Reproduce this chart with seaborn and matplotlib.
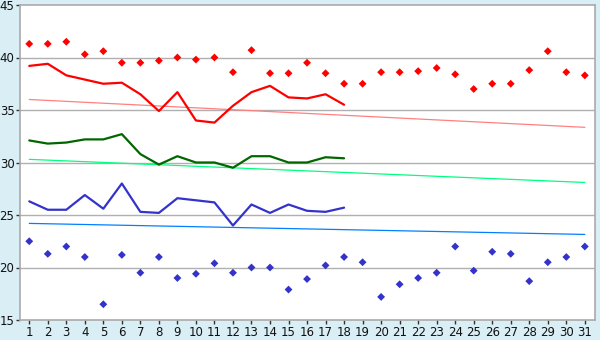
import numpy as np
import pandas as pd
import seaborn as sns
import matplotlib.pyplot as plt

days = list(range(1, 32))

# daily max / min points for all 31 days
max_pts = [41.3, 41.3, 41.5, 40.3, 40.6, 39.5, 39.5, 39.7, 40.0, 39.8, 40.0, 38.6, 40.7, 38.5, 38.5, 39.5,
           38.5, 37.5, 37.5, 38.6, 38.6, 38.7, 39.0, 38.4, 37.0, 37.5, 37.5, 38.8, 40.6, 38.6, 38.3]
min_pts = [22.5, 21.3, 22.0, 21.0, 16.5, 21.2, 19.5, 21.0, 19.0, 19.4, 20.4, 19.5, 20.0, 20.0, 17.9, 18.9,
           20.2, 21.0, 20.5, 17.2, 18.4, 19.0, 19.5, 22.0, 19.7, 21.5, 21.3, 18.7, 20.5, 21.0, 22.0]

# lines for days 1-18
line_days = list(range(1, 19))
red_line = [39.2, 39.4, 38.3, 37.9, 37.5, 37.6, 36.5, 34.9, 36.7, 34.0, 33.8, 35.4, 36.7, 37.3, 36.2, 36.1, 36.5, 35.5]
green_line = [32.1, 31.8, 31.9, 32.2, 32.2, 32.7, 30.8, 29.8, 30.6, 30.0, 30.0, 29.5, 30.6, 30.6, 30.0, 30.0, 30.5, 30.4]
blue_line = [26.3, 25.5, 25.5, 26.9, 25.6, 28.0, 25.3, 25.2, 26.6, 26.4, 26.2, 24.0, 26.0, 25.2, 26.0, 25.4, 25.3, 25.7]

# trend lines (start/end)
trend_days = [1, 31]
red_trend = [36.0, 33.35]
green_trend = [30.3, 28.1]
blue_trend = [24.2, 23.15]

sns.set_style('white')
fig = plt.figure(figsize=(6, 3.4), dpi=100, facecolor='#d9eef5')
ax = fig.add_axes([20 / 600, 20 / 340, 575 / 600, 315 / 340])
ax.set_facecolor('white')

for y in range(20, 45, 5):
    ax.axhline(y, color='#b0b0b0', lw=1, zorder=0)

sns.lineplot(x=trend_days, y=red_trend, color='#ff8080', lw=0.9, ax=ax)
sns.lineplot(x=trend_days, y=green_trend, color='#00ff80', lw=0.9, ax=ax)
sns.lineplot(x=trend_days, y=blue_trend, color='#0080ff', lw=0.9, ax=ax)

sns.lineplot(x=line_days, y=red_line, color='#ff0000', lw=1.6, ax=ax)
sns.lineplot(x=line_days, y=green_line, color='#006600', lw=1.6, ax=ax)
sns.lineplot(x=line_days, y=blue_line, color='#3333cc', lw=1.6, ax=ax)

sns.scatterplot(x=days, y=max_pts, color='#ff0000', marker='D', s=16, edgecolor='none', ax=ax)
sns.scatterplot(x=days, y=min_pts, color='#3333cc', marker='D', s=16, edgecolor='none', ax=ax)

ax.set_xlim(0.5, 31.55)
ax.set_ylim(15, 45)
ax.set_xticks(days)
ax.set_yticks(range(15, 46, 5))
ax.tick_params(axis='both', direction='out', length=3, width=1, color='#333333',
               labelsize=8.5, labelcolor='#111111', pad=1.5)
ax.tick_params(axis='y', labelsize=8.5, pad=1)
ax.tick_params(left=True, bottom=True)
for s in ax.spines.values():
    s.set_color('#aaaaaa')
    s.set_linewidth(1.2)

fig.savefig('out.png', dpi=100, facecolor=fig.get_facecolor())
